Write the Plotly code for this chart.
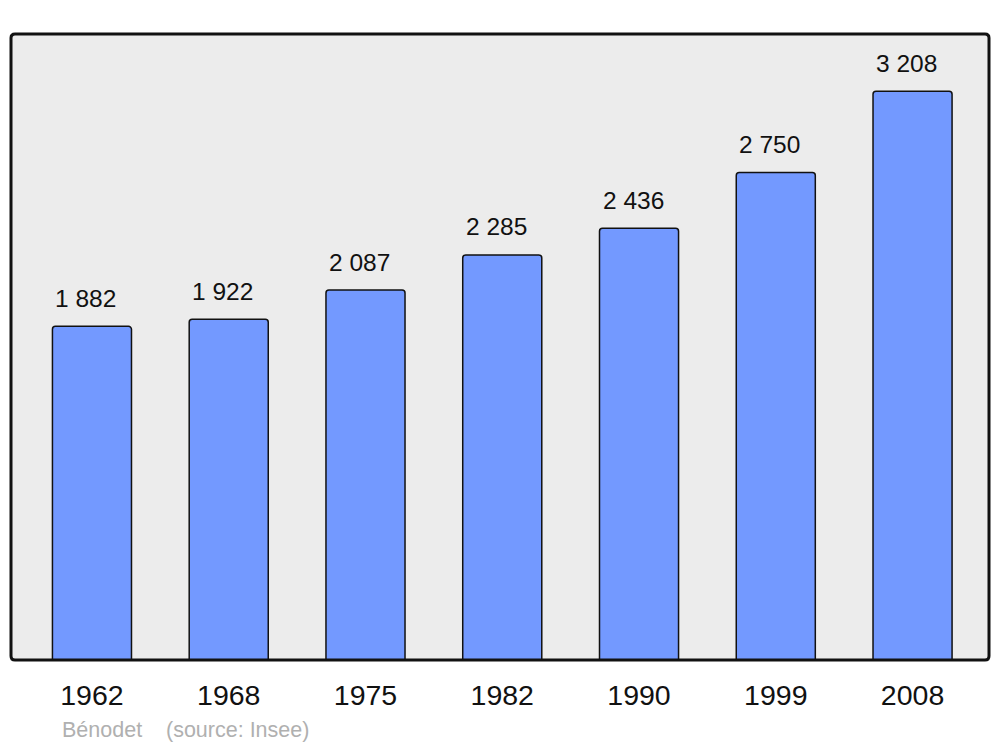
import plotly.graph_objects as go

years = ["1962", "1968", "1975", "1982", "1990", "1999", "2008"]
population = [1882, 1922, 2087, 2285, 2436, 2750, 3208]
labels = ["1 882", "1 922", "2 087", "2 285", "2 436", "2 750", "3 208"]
footer = "Bénodet    (source: Insee)"

W, H = 1000, 747
ml, mr, mt, mb = 11, 11, 34, 87
pw, ph = W - ml - mr, H - mt - mb
FONT = "Liberation Sans, Arial, sans-serif"

pos = list(range(len(years)))

fig = go.Figure()
fig.add_trace(go.Bar(
    x=pos, y=population,
    width=0.578,
    marker=dict(color="#7399ff", line=dict(color="#111111", width=1.5), cornerradius=3),
    hoverinfo="skip",
))

for p, v, lab in zip(pos, population, labels):
    fig.add_annotation(x=p, y=v, text=lab, showarrow=False, xref="x", yref="y",
                       yanchor="middle", yshift=28, xshift=-6,
                       font=dict(family=FONT, size=24.5, color="#111111"))

fig.add_annotation(x=(60 - ml) / pw, y=(H - mb - 730) / ph, xref="paper", yref="paper",
                   xanchor="left", yanchor="middle", showarrow=False,
                   text=footer.replace("    ", "&nbsp;&nbsp;&nbsp;&nbsp;"),
                   font=dict(family=FONT, size=21.5, color="#b0b0b0"))

rx, ry = 4 / pw, 4 / ph
path = (f"M {rx},0 L {1-rx},0 Q 1,0 1,{ry} L 1,{1-ry} Q 1,1 {1-rx},1 "
        f"L {rx},1 Q 0,1 0,{1-ry} L 0,{ry} Q 0,0 {rx},0 Z")
fig.add_shape(type="path", path=path, xref="paper", yref="paper",
              line=dict(color="#111111", width=3), layer="above")

fig.update_layout(
    width=W, height=H,
    margin=dict(l=ml, r=mr, t=mt, b=mb, pad=0),
    paper_bgcolor="white", plot_bgcolor="#ececec",
    showlegend=False,
    xaxis=dict(range=[-0.592, 6.559], showgrid=False, zeroline=False,
               tickmode="array", tickvals=pos, ticktext=years,
               showline=False, ticks="outside", ticklen=10, tickcolor="rgba(0,0,0,0)",
               tickfont=dict(family=FONT, size=28.5, color="#111111")),
    yaxis=dict(range=[0, 3531], showgrid=False, zeroline=False, showline=False,
               showticklabels=False, ticks=""),
)

fig.write_html("out.html", config={"displayModeBar": False},
               post_script="document.body.style.margin='0';document.body.style.padding='0';")
